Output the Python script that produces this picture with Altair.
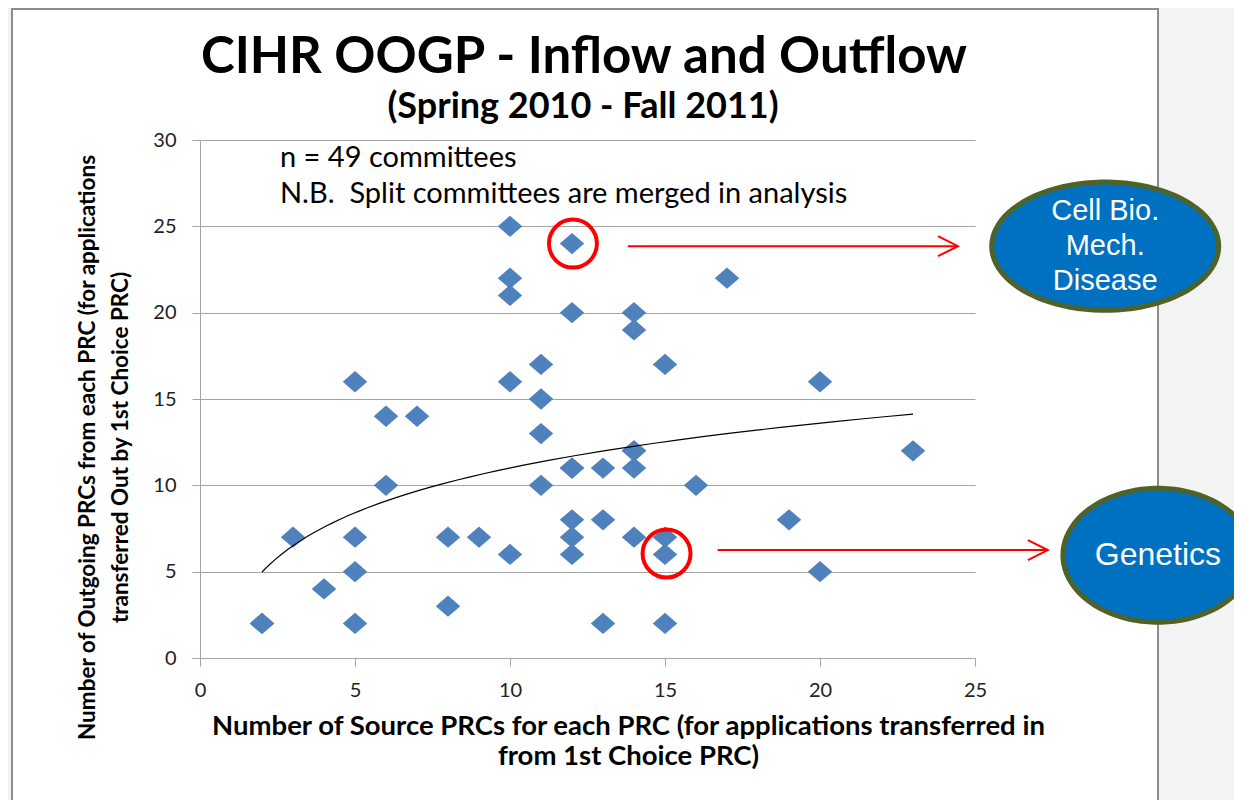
import altair as alt
import pandas as pd
import numpy as np

# ---------------- data ----------------
# 49 committees; a few diamonds overlap exactly
x_sources = [2, 2, 3, 4, 5, 5, 5, 5, 6, 6, 7, 8, 8, 9, 10, 10, 10, 10, 10,
             11, 11, 11, 11, 12, 12, 12, 12, 12, 12, 12, 13, 13, 13,
             14, 14, 14, 14, 14, 14, 15, 15, 15, 15, 16, 17, 19, 20, 20, 23]
y_outgoing = [2, 2, 7, 4, 16, 7, 5, 2, 14, 10, 14, 7, 3, 7, 25, 22, 21, 16, 6,
              17, 15, 13, 10, 24, 20, 11, 11, 8, 7, 6, 11, 8, 2,
              20, 19, 12, 12, 11, 7, 17, 7, 6, 2, 10, 22, 8, 16, 5, 12]

x_ticks = [0, 5, 10, 15, 20, 25]
y_ticks = [0, 5, 10, 15, 20, 25, 30]

title_text = "CIHR OOGP - Inflow and Outflow"
subtitle_text = "(Spring 2010 - Fall 2011)"
x_title = ["Number of Source PRCs for each PRC (for applications transferred in",
           "from 1st Choice PRC)"]
y_title = ["Number of Outgoing PRCs from each PRC (for applications",
           "transferred Out by 1st Choice PRC)"]

note_lines = ["n = 49 committees", "N.B.\u00a0\u00a0Split committees are merged in analysis"]
note_x = [2.58, 2.58]
note_y = [28.45, 26.35]

# highlighted committees
circle_x = [12.03, 15.05]
circle_y = [24.0, 6.05]

# arrows (start x, tip x, y)
arrow_x = [13.8, 16.7]
arrow_x2 = [24.45, 27.35]
arrow_y = [23.85, 6.25]

# callout ellipses
bubble_labels = ["Cell Bio.\nMech.\nDisease", "Genetics"]
bubble_x = [29.2, 30.9]
bubble_y = [23.85, 5.95]
bubble_w = [227, 190]
bubble_ratio = [0.565, 0.705]
bubble_font = [29, 32]
bubble_dy = [-35, 0]

# ---------------- frames ----------------
df = pd.DataFrame({"x": x_sources, "y": y_outgoing})
notes = pd.DataFrame({"x": note_x, "y": note_y, "t": note_lines})
circles = pd.DataFrame({"x": circle_x, "y": circle_y})
arrows = pd.DataFrame({"x": arrow_x, "x2": arrow_x2, "y": arrow_y})
heads = pd.DataFrame({"x": arrow_x2, "y": arrow_y})
one = pd.DataFrame({"k": [0]})

FONT = "Lato"
W, H = 775, 518
GRID = "#a3a3a3"

xs = alt.Scale(domain=[0, 25], nice=False, zero=False)
ys = alt.Scale(domain=[0, 30], nice=False, zero=False)

X = alt.X("x:Q", scale=xs, axis=alt.Axis(
    values=x_ticks, grid=False, title=x_title, format="d", labelFlush=False,
    labelFont=FONT, labelFontSize=20, labelColor="#222222",
    labelBaseline="middle", labelPadding=24,
    tickSize=8, tickColor=GRID, domainColor=GRID,
    titleFont=FONT, titleFontSize=27.5, titleFontWeight="bold", titleColor="black",
    titleX=428, titleY=76, titleAlign="center", titleBaseline="alphabetic",
    titleLineHeight=30, titleAnchor="middle"))
Y = alt.Y("y:Q", scale=ys, axis=alt.Axis(
    values=y_ticks, grid=True, gridColor=GRID, title=y_title, format="d",
    labelFlush=False,
    labelFont=FONT, labelFontSize=20, labelColor="#222222", labelPadding=16,
    tickSize=8, tickColor=GRID, domainColor=GRID,
    titleFont=FONT, titleFontSize=22.5, titleFontWeight="bold", titleColor="black",
    titleAngle=270, titleX=-106, titleY=307, titleAlign="center",
    titleBaseline="alphabetic", titleLineHeight=33))

# background pieces (pixel placement of the slide frame)
side = alt.Chart(one).mark_rect(fill="#f3f3f3", clip=False).encode(
    x=alt.value(958), x2=alt.value(1060), y=alt.value(-140), y2=alt.value(700))
side_left = alt.Chart(one).mark_rect(fill="#f1f1f1", clip=False).encode(
    x=alt.value(-200), x2=alt.value(-188), y=alt.value(-140), y2=alt.value(700))
frame = alt.Chart(one).mark_rect(filled=False, stroke="#8c8c8c", strokeWidth=2,
                                 fillOpacity=0, clip=False).encode(
    x=alt.value(-188), x2=alt.value(958), y=alt.value(-131), y2=alt.value(700))

title = alt.Chart(one).mark_text(font=FONT, fontSize=51, fontWeight="bold",
                                 color="black", align="center", baseline="alphabetic").encode(
    x=alt.value(384), y=alt.value(-67), text=alt.value(title_text))
subtitle = alt.Chart(one).mark_text(font=FONT, fontSize=36, fontWeight="bold",
                                    color="black", align="center", baseline="alphabetic").encode(
    x=alt.value(383), y=alt.value(-22), text=alt.value(subtitle_text))

diamond = "M-1,0L0,-0.87L1,0L0,0.87Z"
points = alt.Chart(df).mark_point(shape=diamond, filled=True, color="#4F81BD",
                                  opacity=1, size=600).encode(x=X, y=Y)

trend = alt.Chart(df).transform_regression("x", "y", method="log").mark_line(
    color="black", strokeWidth=1.2).encode(x=X, y=Y)

note = alt.Chart(notes).mark_text(font=FONT, fontSize=29, color="black",
                                  align="left", baseline="alphabetic").encode(
    x=X, y=Y, text="t:N")

rings = alt.Chart(circles).mark_point(shape="circle", filled=False, stroke="#FF0000",
                                      strokeWidth=4, size=2300, opacity=1).encode(x=X, y=Y)

arrow_lines = alt.Chart(arrows).mark_rule(color="#FF0000", strokeWidth=2, clip=False).encode(
    x=X, x2="x2:Q", y=Y)
arrow_heads = alt.Chart(heads).mark_point(shape="M-2,-1L0,0L-2,1", filled=False,
                                          stroke="#FF0000", strokeWidth=2, size=400,
                                          opacity=1, clip=False).encode(x=X, y=Y)


def ellipse_path(ratio, n=90):
    t = np.linspace(0, 2 * np.pi, n, endpoint=False)
    pts = ["%.4f,%.4f" % (np.cos(a), ratio * np.sin(a)) for a in t]
    return "M" + "L".join(pts) + "Z"


bubble_layers = []
for lab, bx, by, bw, br, bf, bdy in zip(bubble_labels, bubble_x, bubble_y,
                                        bubble_w, bubble_ratio, bubble_font, bubble_dy):
    bd = pd.DataFrame({"x": [bx], "y": [by], "t": [lab]})
    bubble_layers.append(
        alt.Chart(bd).mark_point(shape=ellipse_path(br), filled=True, fill="#0070C0",
                                 stroke="#4F6228", strokeWidth=5, opacity=1,
                                 size=bw * bw, clip=False).encode(x=X, y=Y))
    bubble_layers.append(
        alt.Chart(bd).mark_text(font="Liberation Sans", fontSize=bf, color="white",
                                align="center", baseline="middle", lineBreak="\n",
                                lineHeight=35, dy=bdy, clip=False).encode(x=X, y=Y, text="t:N"))

chart = alt.layer(side, side_left, frame, title, subtitle, points, trend, note, rings,
                  arrow_lines, arrow_heads, *bubble_layers).properties(
    width=W, height=H,
    autosize=alt.AutoSizeParams(type="none"),
    padding={"left": 192, "top": 132, "right": 259, "bottom": 142},
    background="white",
).configure_view(stroke=None)

chart.save("out.html", embed_options={"renderer": "svg", "actions": False})
